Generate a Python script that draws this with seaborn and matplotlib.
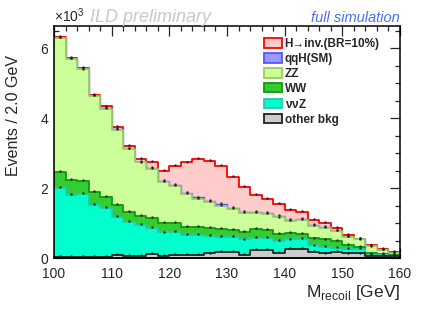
import numpy as np
import pandas as pd
import matplotlib
matplotlib.use("Agg")
import matplotlib.pyplot as plt
from matplotlib.patches import Patch
from matplotlib.ticker import MultipleLocator, FuncFormatter
import seaborn as sns

# ---- data (events per 2 GeV bin, 100-160 GeV) ----
bin_edges = [100 + 2 * i for i in range(31)]
other_bkg = [40, 40, 40, 40, 40, 80, 60, 60, 120, 70, 90, 80, 100, 130, 170,
             170, 100, 220, 220, 150, 250, 250, 170, 130, 170, 130, 130, 50, 60, 50]
nunuZ = [1950, 1760, 1790, 1470, 1390, 1100, 980, 880, 730, 660, 660, 580, 560, 500, 440,
         420, 430, 350, 360, 330, 280, 300, 190, 190, 130, 140, 140, 30, 20, 10]
WW = [480, 430, 370, 380, 320, 330, 280, 260, 290, 260, 240, 220, 220, 240, 230,
      220, 220, 260, 220, 220, 190, 150, 200, 210, 190, 100, 50, 50, 30, 30]
ZZ = [3810, 3450, 3190, 2740, 2520, 2160, 1790, 1530, 1410, 1180, 1070, 950, 800, 720, 660,
      590, 540, 460, 450, 460, 350, 390, 360, 340, 280, 230, 210, 200, 110, 50]
qqH = [10, 10, 10, 10, 10, 10, 10, 10, 30, 40, 40, 40, 50, 40, 40,
       40, 30, 30, 30, 30, 20, 20, 20, 20, 10, 10, 10, 10, 10, 10]
Hinv = [20, 20, 30, 30, 50, 60, 90, 90, 170, 290, 540, 860, 1110, 1140, 1100,
        880, 720, 480, 420, 350, 280, 210, 150, 120, 90, 40, 10, 20, 30, 30]

labels = ["other bkg", r"$\mathregular{\nu\nu}$Z", "WW", "ZZ", "qqH(SM)", "H\u2192inv.(BR=10%)"]
fills = ["#cccccc", "#00ffcc", "#33cc33", "#ccff99", "#9999ff", "#ffcccc"]
edges_c = ["#222222", "#22ccaa", "#119911", "#99cc66", "#5555ff", "#ff0000"]
widths = [1.3, 1.3, 1.3, 1.3, 1.0, 1.3]

sns.set_style("ticks")
plt.rcParams["font.family"] = ["Liberation Sans", "DejaVu Sans"]
plt.rcParams["mathtext.fontset"] = "custom"
plt.rcParams["mathtext.rm"] = "Liberation Sans"

fig = plt.figure(figsize=(4.36, 3.22), dpi=100)
ax = fig.add_axes([54 / 436, 1 - 258 / 322, 346 / 436, 232 / 322])

edges = np.array(bin_edges, dtype=float)
centers = (edges[:-1] + edges[1:]) / 2
stack = np.cumsum(np.array([other_bkg, nunuZ, WW, ZZ, qqH, Hinv], dtype=float), axis=0)

for i in reversed(range(6)):
    df = pd.DataFrame({"m": centers, "w": stack[i]})
    sns.histplot(data=df, x="m", weights="w", bins=list(bin_edges), element="step", fill=True,
                 facecolor=fills[i], edgecolor=edges_c[i], linewidth=widths[i], alpha=1, ax=ax)

for i in range(6):
    ax.plot(centers, stack[i] + 25, ls="none", marker="o", ms=1.8, mew=0, color="#222222",
            alpha=0.85, zorder=5)

ax.set_xlim(100, 160)
ax.set_ylim(0, 6630)
ax.set_xlabel("")
ax.set_ylabel("")
ax.xaxis.set_major_locator(MultipleLocator(10))
ax.xaxis.set_minor_locator(MultipleLocator(2))
ax.yaxis.set_major_locator(MultipleLocator(2000))
ax.yaxis.set_minor_locator(MultipleLocator(500))
ax.yaxis.set_major_formatter(FuncFormatter(lambda v, p: f"{v / 1000:.0f}"))
ax.tick_params(which="both", direction="in", top=True, right=True, labelsize=10, width=0.9)
ax.tick_params(axis="x", which="both", pad=6.5)
ax.tick_params(axis="y", which="both", pad=4)
ax.tick_params(which="major", length=7)
ax.tick_params(which="minor", length=3.5)
for s in ax.spines.values():
    s.set_linewidth(1.1)
    s.set_color("black")
    s.set_visible(True)

fig.text(54 / 436, 1 - 22 / 322, r"$\mathregular{\times10^{3}}$", fontsize=10, ha="left", va="baseline")
fig.text(90 / 436, 1 - 22 / 322, "ILD preliminary", fontsize=13, style="italic",
         color="#c8c8c8", ha="left", va="baseline")
fig.text(400 / 436, 1 - 22 / 322, "full simulation", fontsize=10.5, style="italic",
         color="#4a6ef5", ha="right", va="baseline")
fig.text(14 / 436, 1 - 55 / 322, "Events / 2.0 GeV", fontsize=11.5, rotation=90,
         ha="center", va="top")
fig.text(400 / 436, 1 - 297 / 322, r"M$_{\mathregular{recoil}}$ [GeV]", fontsize=12.5,
         ha="right", va="baseline")

handles = [Patch(facecolor=fills[i], edgecolor=edges_c[i], linewidth=1.3) for i in reversed(range(6))]
leg_labels = [labels[i] for i in reversed(range(6))]
leg = fig.legend(handles, leg_labels, loc="upper left", bbox_to_anchor=(264 / 436, 1 - 38 / 322),
                 frameon=False, prop={"weight": "bold", "size": 8.5}, borderpad=0, borderaxespad=0,
                 labelspacing=0.25, handlelength=1.5, handleheight=0.85, handletextpad=0.25)

fig.savefig("out.png", dpi=100)
